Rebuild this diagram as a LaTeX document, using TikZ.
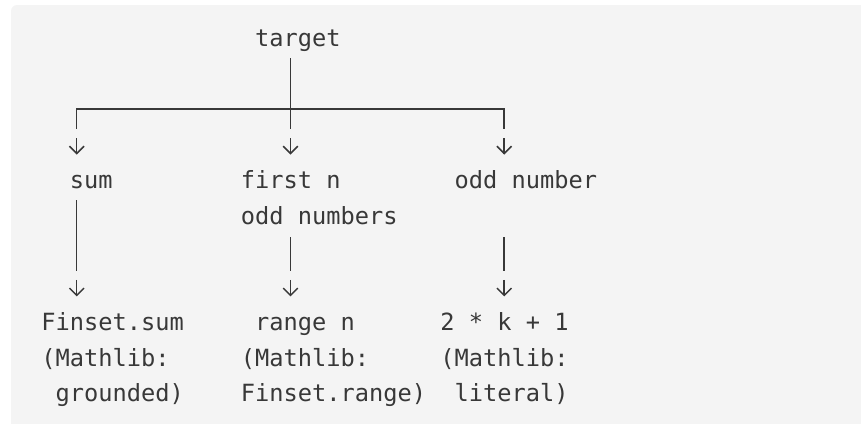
\documentclass[tikz,border=0pt]{standalone}
\usepackage{fontspec}
\newfontfamily\codefont{DejaVu Sans Mono}
\definecolor{codebg}{HTML}{F4F4F4}
\definecolor{ink}{HTML}{383838}
\begin{document}
\begin{tikzpicture}[x=1pt,y=-1pt,
  % character grid of the code block: column left edges and text baselines
  declare function={cx(\c)=41.1+14.25*\c; by(\r)=46.7+35.48*\r;},
  lbl/.style={anchor=base west, inner sep=0pt, text=ink,
    font=\codefont\fontsize{23.67}{35.5}\selectfont},
  conn/.style={draw=ink, line width=1.5pt, line join=miter},
  darr/.pic={
    \draw[conn] (0,0) -- (0,15.5);
    \draw[conn] (-7.3,8.2) -- (0,15.5) -- (7.3,8.2);
  }]
\useasboundingbox (0,0) rectangle (861,423);
\begin{scope}
  \clip (0,0) rectangle (861,423);
  \fill[codebg, rounded corners=6pt] (11,5) rectangle (890,450);
\end{scope}

% labels
\node[lbl] (target) at ({cx(15)},{by(0)}) {target};

\node[lbl] (sum)     at ({cx(2)},{by(4)})  {sum};
\node[lbl] (firstn)  at ({cx(14)},{by(4)}) {first n};
\node[lbl] (firstn2) at ({cx(14)},{by(5)}) {odd numbers};
\node[lbl] (oddnum)  at ({cx(29)},{by(4)}) {odd number};

\node[lbl] (fsum)   at ({cx(0)},{by(8)})  {Finset.sum};
\node[lbl] (fsum2)  at ({cx(0)},{by(9)})  {(Mathlib:};
\node[lbl] (fsum3)  at ({cx(1)},{by(10)}) {grounded)};

\node[lbl] (range)  at ({cx(15)},{by(8)})  {range n};
\node[lbl] (range2) at ({cx(14)},{by(9)})  {(Mathlib:};
\node[lbl] (range3) at ({cx(14)},{by(10)}) {Finset.range)};

\node[lbl] (lit)    at ({cx(28)},{by(8)})  {2 * k + 1};
\node[lbl] (lit2)   at ({cx(28)},{by(9)})  {(Mathlib:};
\node[lbl] (lit3)   at ({cx(29)},{by(10)}) {literal)};

% connector end points
\coordinate (tgtTop)  at ({cx(17.5)},58);
\coordinate (hubDown) at ({cx(17.5)},129);
\coordinate (hubL)    at ({cx(2.5)},109);
\coordinate (hubLd)   at ({cx(2.5)},129);
\coordinate (hubR)    at ({cx(32.5)},109);
\coordinate (hubRd)   at ({cx(32.5)},129);

\coordinate (sumTop)  at ({cx(2.5)},200);
\coordinate (sumBot)  at ({cx(2.5)},271);
\coordinate (midTop)  at ({cx(17.5)},237);
\coordinate (midBot)  at ({cx(17.5)},271);
\coordinate (rgtTop)  at ({cx(32.5)},237);
\coordinate (rgtBot)  at ({cx(32.5)},271);

% tree lines
\draw[conn] (tgtTop) -- (hubDown);
\draw[conn] (hubLd) -- (hubL) -- (hubR) -- (hubRd);
\draw[conn] (sumTop) -- (sumBot);
\draw[conn] (midTop) -- (midBot);
\draw[conn] (rgtTop) -- (rgtBot);

% down arrows
\foreach \c in {2.5,17.5,32.5}{
  \pic at ({cx(\c)},138) {darr};
  \pic at ({cx(\c)},279.9) {darr};
}
\end{tikzpicture}
\end{document}
